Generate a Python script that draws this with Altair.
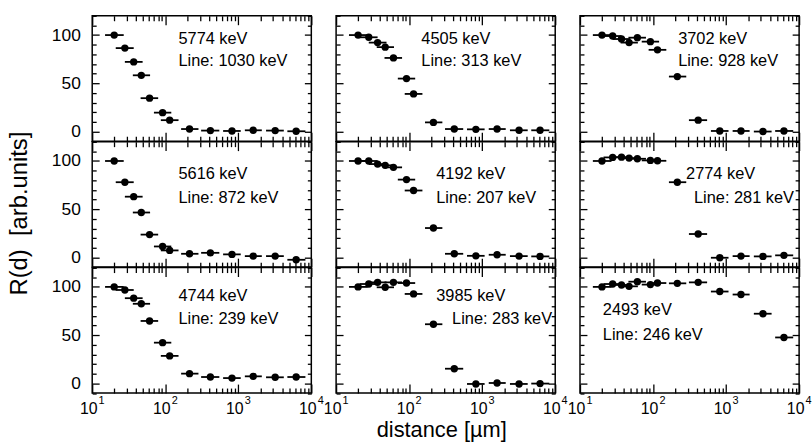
import altair as alt
import pandas as pd

# ---------------- data ----------------
distance    = [20, 28, 37, 47, 61, 92, 115, 215, 415, 820, 1600, 3200, 6200]
distance_lo = [15, 21, 28, 36, 46, 70, 87, 165, 310, 620, 1230, 2400, 4700]
distance_hi = [27, 37, 49, 62, 80, 121, 152, 285, 550, 1080, 2100, 4200, 8300]

gamma_energy = ["5774 keV", "4505 keV", "3702 keV",
                "5616 keV", "4192 keV", "2774 keV",
                "4744 keV", "3985 keV", "2493 keV"]
line_energy = ["Line: 1030 keV", "Line: 313 keV", "Line: 928 keV",
               "Line: 872 keV", "Line: 207 keV", "Line: 281 keV",
               "Line: 239 keV", "Line: 283 keV", "Line: 246 keV"]

r_5774 = [100, 86.5, 72.2, 58.3, 34.6, 19.6, 11.8, 2.6, 1.0, 0.6, 1.3, 1.0, 0.3]
r_4505 = [100, 97.7, 92.2, 87.5, 76.3, 54.9, 39.0, 9.5, 2.6, 2.3, 2.6, 1.3, 1.3]
r_3702 = [100, 99.0, 95.9, 92.2, 97.3, 93.2, 84.7, 57.0, 11.8, 0.6, 0.6, 0.0, 0.6]
r_5616 = [100, 78.0, 63.0, 46.6, 23.7, 11.4, 7.3, 3.8, 4.8, 3.2, 1.4, 1.4, -2.4]
r_4192 = [100, 100, 96.8, 95.5, 93.4, 80.7, 69.4, 30.5, 3.8, 1.7, 2.8, 1.4, 1.1]
r_2774 = [100, 103.7, 104.0, 103.0, 102.3, 100.6, 100.2, 78.0, 24.3, -0.3, 1.4, 1.1, 2.2]
r_4744 = [100, 96.8, 88.3, 82.5, 64.7, 42.2, 28.5, 10.1, 6.6, 5.5, 7.3, 6.3, 6.6]
r_3985 = [100, 103.0, 104.7, 99.6, 104.7, 104.0, 92.7, 61.3, 15.2, -0.6, 0.4, -0.6, -0.2]
r_2493 = [100, 103.0, 102.0, 100.6, 105.4, 102.4, 104.0, 103.7, 104.7, 95.2, 92.1, 72.2, 47.6]

series = [r_5774, r_4505, r_3702, r_5616, r_4192, r_2774, r_4744, r_3985, r_2493]

x_major = [10, 100, 1000, 10000]
x_minor = [20, 30, 40, 50, 60, 70, 80, 90,
           200, 300, 400, 500, 600, 700, 800, 900,
           2000, 3000, 4000, 5000, 6000, 7000, 8000, 9000]
y_major = [0, 50, 100]
y_minor = [-10, 10, 20, 30, 40, 60, 70, 80, 90, 110, 120]

# ---------------- layout / style ----------------
W, H = 221, 126.5
FONT = "Liberation Sans"
# annotation placement (pixels inside each panel): x of line1, x of line2, y1, y2
ann_pos = [(87, 87, 23, 46), (86, 86, 23, 46), (99, 99, 23, 46),
           (87, 87, 33, 57), (101, 101, 33, 57), (107, 115, 33, 57),
           (87, 87, 29, 52), (101, 117, 29, 52), (23, 23, 43, 68)]

xs = alt.Scale(type="log", domain=[10, 10000], nice=False)
ys = alt.Scale(domain=[-10, 120], nice=False, zero=False)

exp_expr = ("datum.value == 10 ? '1' : datum.value == 100 ? '2' : "
            "datum.value == 1000 ? '3' : '4'")


def ax(orient, values, size, **kw):
    return alt.Axis(orient=orient, values=values, tickSize=size, offset=-size,
                    domain=False, grid=False, ticks=True, tickColor="black",
                    tickWidth=1.3, **kw)


def panel(i):
    row, col = divmod(i, 3)
    df = pd.DataFrame({"d": distance, "lo": distance_lo, "hi": distance_hi, "r": series[i]})
    base = alt.Chart(df)

    # bottom major axis
    if row == 2:
        bx_kw = dict(labels=True, labelExpr="'10'", labelFont=FONT, labelFontSize=16,
                     labelColor="black", labelPadding=8, labelOffset=-4,
                     labelFlush=False, labelOverlap=False)
        if col == 1:
            bx_kw.update(titleFont=FONT, titleFontSize=22, titleFontWeight="normal",
                         titleColor="black", titlePadding=3, titleX=106)
    else:
        bx_kw = dict(labels=False)
    x_title = "distance [\u00b5m]" if (row == 2 and col == 1) else None

    if col == 0:
        ly_kw = dict(labels=True, labelFont=FONT, labelFontSize=17.5, labelColor="black",
                     labelPadding=12)
        if row == 1:
            ly_kw.update(titleFont=FONT, titleFontSize=24, titleFontWeight="normal",
                         titleColor="black", titlePadding=20, titleY=72)
    else:
        ly_kw = dict(labels=False)
    y_title = "R(d)\u00a0 [arb.units]" if (row == 1 and col == 0) else None

    bars = base.mark_rule(color="black", strokeWidth=1.8).encode(
        x=alt.X("lo:Q", scale=xs, axis=ax("bottom", x_major, 9, **bx_kw), title=x_title),
        x2="hi:Q",
        y=alt.Y("r:Q", scale=ys, axis=ax("left", y_major, 7, **ly_kw), title=y_title),
    )
    pts = base.mark_circle(size=55, color="black", opacity=1).encode(
        x=alt.X("d:Q", scale=xs, axis=ax("top", x_major, 9, labels=False), title=None),
        y=alt.Y("r:Q", scale=ys, axis=ax("right", y_major, 7, labels=False), title=None),
    )
    minor1 = base.mark_point(opacity=0).encode(
        x=alt.X("d:Q", scale=xs, axis=ax("bottom", x_minor, 5, labels=False), title=None),
        y=alt.Y("r:Q", scale=ys, axis=ax("left", y_minor, 4, labels=False), title=None),
    )
    minor2 = base.mark_point(opacity=0).encode(
        x=alt.X("d:Q", scale=xs, axis=ax("top", x_minor, 5, labels=False), title=None),
        y=alt.Y("r:Q", scale=ys, axis=ax("right", y_minor, 4, labels=False), title=None),
    )
    layers = [bars, pts, minor1, minor2]
    if row == 2:
        expo = base.mark_point(opacity=0).encode(
            x=alt.X("d:Q", scale=xs,
                    axis=alt.Axis(orient="bottom", values=x_major, tickSize=9, offset=-9,
                                  domain=False, grid=False, ticks=True, tickOpacity=0,
                                  labels=True, labelExpr=exp_expr, labelFont=FONT,
                                  labelFontSize=11, labelColor="black", labelPadding=2,
                                  labelOffset=9, labelFlush=False,
                                  labelOverlap=False),
                    title=None),
            y=alt.Y("r:Q", scale=ys, axis=None),
        )
        layers.append(expo)
    x1, x2, y1, y2 = ann_pos[i]
    t1 = alt.Chart(pd.DataFrame({"t": [gamma_energy[i]]})).mark_text(
        align="left", baseline="middle", font=FONT, fontSize=16.5, color="black"
    ).encode(text="t:N", x=alt.value(x1), y=alt.value(y1))
    t2 = alt.Chart(pd.DataFrame({"t": [line_energy[i]]})).mark_text(
        align="left", baseline="middle", font=FONT, fontSize=16.5, color="black"
    ).encode(text="t:N", x=alt.value(x2), y=alt.value(y2))
    layers += [t1, t2]

    return alt.layer(*layers).resolve_scale(
        x="independent", y="independent"
    ).properties(width=W, height=H)


chart = alt.concat(
    *[panel(i) for i in range(9)],
    columns=3,
    spacing={"row": 0, "column": 25},
    bounds="flush",
).properties(
    padding={"left": 7, "top": 12, "right": 0, "bottom": 0},
    background="white",
).configure_view(stroke="black", strokeWidth=1.5)

chart.save("out.html", embed_options={"renderer": "svg", "actions": False})
